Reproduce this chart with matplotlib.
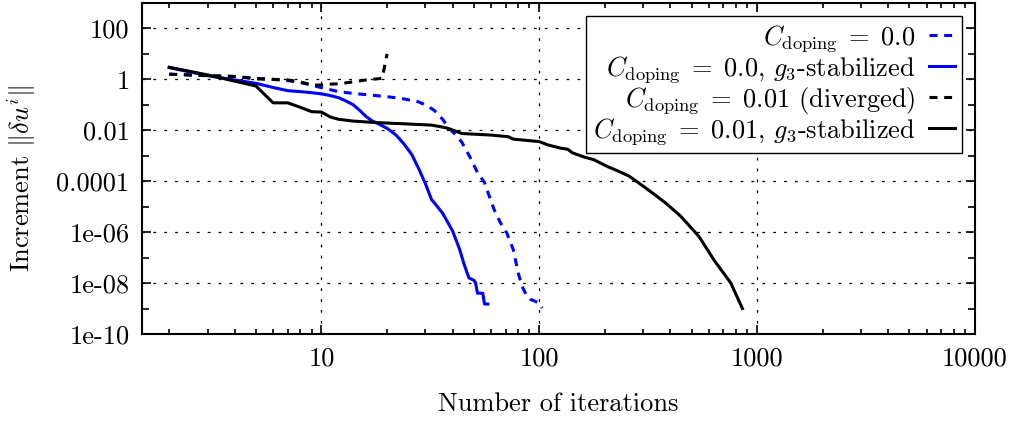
import numpy as np
import matplotlib
matplotlib.use("Agg")
import matplotlib.pyplot as plt
from matplotlib.ticker import NullFormatter

plt.rcParams['font.family'] = 'serif'
plt.rcParams['font.serif'] = ['cmr10']
plt.rcParams['mathtext.fontset'] = 'cm'
plt.rcParams['axes.formatter.use_mathtext'] = True

# C_doping = 0.0 (plain Newton)
it_c0 = [2, 3, 4, 5, 6, 7, 8, 9, 10, 12, 14, 17, 20, 24, 28, 31, 33, 36, 38, 42, 44,
         48, 52, 56, 59, 62, 66, 71, 76, 80, 83, 87, 91, 96, 100, 103]
du_c0 = [1.6, 1.4, 1.3, 1.1, 1.0, 0.9, 0.75, 0.6, 0.47, 0.33, 0.28, 0.24, 0.21, 0.17, 0.13,
         0.085, 0.06, 0.027, 0.014, 0.0056, 0.0035, 9e-4, 2.2e-4, 9e-5, 2.5e-5, 7.7e-6,
         2.5e-6, 9e-7, 2e-7, 2.5e-8, 8e-9, 3.5e-9, 2.3e-9, 1.9e-9, 1.6e-9, 1.05e-9]

# C_doping = 0.0, g3-stabilized
it_c0_g3 = [2, 3, 4, 5, 6, 7, 8, 9, 10, 11, 12, 13, 14, 15, 16, 17, 18, 20, 22, 24, 26,
            28, 30, 32, 33, 36, 40, 43, 45, 46, 47.5, 50, 51, 52, 55, 56, 58]
du_c0_g3 = [2.9, 1.4, 0.95, 0.7, 0.48, 0.36, 0.33, 0.3, 0.27, 0.23, 0.19, 0.14, 0.1, 0.06,
            0.035, 0.024, 0.019, 0.012, 0.0065, 0.0028, 0.0011, 3e-4, 8e-5, 1.9e-5, 1.4e-5,
            5.5e-6, 1.1e-6, 2.2e-7, 6e-8, 3.5e-8, 1.6e-8, 1.3e-8, 1e-8, 4e-9, 4e-9, 1.5e-9,
            1.5e-9]

# C_doping = 0.01 (diverged)
it_c1 = [2, 3, 4, 5, 6, 7, 8, 9, 10, 11, 12, 14, 16, 17, 18, 19, 20]
du_c1 = [1.6, 1.4, 1.3, 1.05, 1.0, 0.95, 0.8, 0.6, 0.6, 0.65, 0.67, 0.8, 0.95, 1.0, 1.05,
         1.1, 10.0]

# C_doping = 0.01, g3-stabilized
it_c1_g3 = [2, 3, 4, 5, 6, 7, 8, 9, 10, 11, 12, 14, 18, 24, 32, 35, 38, 41, 44, 60, 72, 76,
            100, 109, 125, 135, 142, 160, 178, 205, 228, 258, 287, 330, 380, 446, 541, 634,
            757, 856]
du_c1_g3 = [3.0, 1.5, 0.85, 0.55, 0.12, 0.12, 0.08, 0.054, 0.052, 0.033, 0.027, 0.023, 0.02,
            0.018, 0.016, 0.014, 0.012, 0.0095, 0.0075, 0.0065, 0.0056, 0.0045, 0.0036,
            0.0027, 0.002, 0.0018, 0.0013, 0.0009, 0.0007, 0.00038, 0.00026, 0.00016,
            8.4e-5, 3.5e-5, 1.4e-5, 4.2e-6, 6.7e-7, 8e-8, 1e-8, 1e-9]

yticks = [1e-10, 1e-8, 1e-6, 1e-4, 1e-2, 1, 100]
ytick_labels = ['1e-10', '1e-08', '1e-06', '0.0001', '0.01', '1', '100']
xticks = [10, 100, 1000, 10000]
xtick_labels = ['10', '100', '1000', '10000']

fs = 19
lw = 2.2
dash = (2.6, 2.2)

fig = plt.figure(figsize=(10.17, 4.24), dpi=100)
ax = fig.add_axes([142 / 1017, 90 / 424, 833 / 1017, 331 / 424])

ax.plot(it_c0, du_c0, color='#0000ff', lw=lw, dashes=dash,
        label=r'$C_{\mathrm{doping}}\;=\;0.0$')
ax.plot(it_c0_g3, du_c0_g3, color='#0000ff', lw=lw,
        label=r'$C_{\mathrm{doping}}\;=\;0.0$, $g_3$-stabilized')
ax.plot(it_c1, du_c1, color='black', lw=lw, dashes=dash,
        label=r'$C_{\mathrm{doping}}\;=\;0.01$ (diverged)')
ax.plot(it_c1_g3, du_c1_g3, color='black', lw=lw,
        label=r'$C_{\mathrm{doping}}\;=\;0.01$, $g_3$-stabilized')

ax.set_xscale('log')
ax.set_yscale('log')
ax.set_xlim(1.5, 10000)
ax.set_ylim(1e-10, 1000)

ax.set_xticks(xticks)
ax.set_xticklabels(xtick_labels)
ax.set_yticks(yticks)
ax.set_yticklabels(ytick_labels)
ax.set_xticks([m * 10 ** e for e in range(0, 4) for m in range(2, 10) if m * 10 ** e >= 1.5],
              minor=True)
ax.set_yticks([10.0 ** e for e in range(-9, 4, 2)], minor=True)
ax.xaxis.set_minor_formatter(NullFormatter())
ax.yaxis.set_minor_formatter(NullFormatter())
ax.tick_params(which='both', direction='in', top=True, right=True, labelsize=fs, width=1.2)
ax.tick_params(which='major', length=6.5, pad=9)
ax.tick_params(which='minor', length=3.5)
ax.tick_params(axis='y', which='minor', length=5)

ax.grid(True, which='major', color='black', lw=0.9, linestyle=(0, (2.2, 6.5)))
for s in ax.spines.values():
    s.set_linewidth(1.5)

ax.set_xlabel('Number of iterations', fontsize=fs)
ax.xaxis.set_label_coords(0.5, -0.175)
ax.set_ylabel(r'Increment $\|\delta u^i\|$', fontsize=fs)
ax.yaxis.set_label_coords(-0.125, 0.47)

leg = ax.legend(loc='upper right', fontsize=fs, markerfirst=False, fancybox=False,
                framealpha=1, edgecolor='black', handlelength=1.0, handletextpad=0.5,
                labelspacing=0.0, borderpad=0.25, borderaxespad=0.5)
leg.get_frame().set_linewidth(1.0)

fig.savefig('out.png', dpi=100)
